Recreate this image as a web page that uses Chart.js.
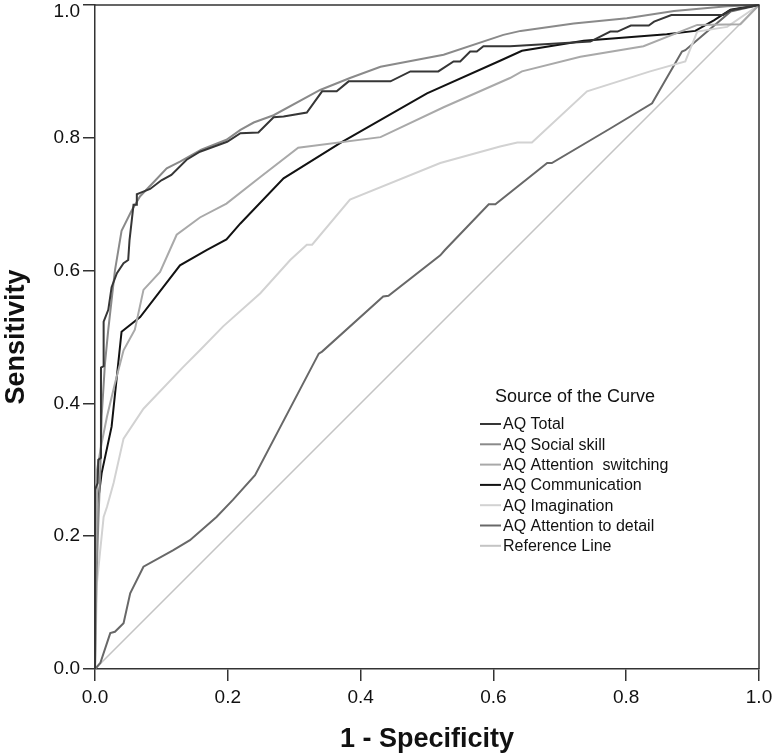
<!DOCTYPE html>
<html>
<head>
<meta charset="utf-8">
<script src="https://cdn.jsdelivr.net/npm/chart.js@4"></script>
<style>
  html, body { margin: 0; padding: 0; background: #fff; }
  #wrap { width: 774px; height: 756px; }
</style>
</head>
<body>
<div id="wrap"><canvas id="roc"></canvas></div>
<script>
// ROC points as [1 - specificity, sensitivity]
var aqTotal = [[0,0],[0,0.27],[0.004,0.28],[0.005,0.315],[0.009,0.318],[0.009,0.454],[0.013,0.456],[0.013,0.523],
  [0.020,0.541],[0.025,0.575],[0.033,0.596],[0.043,0.611],[0.050,0.616],[0.052,0.646],[0.058,0.699],[0.063,0.699],
  [0.063,0.715],[0.068,0.717],[0.083,0.723],[0.10,0.736],[0.115,0.744],[0.138,0.767],[0.158,0.779],[0.199,0.794],
  [0.219,0.807],[0.246,0.808],[0.269,0.831],[0.284,0.832],[0.319,0.838],[0.342,0.870],[0.364,0.870],[0.382,0.885],
  [0.445,0.885],[0.475,0.900],[0.517,0.900],[0.540,0.915],[0.550,0.915],[0.565,0.930],[0.575,0.930],[0.585,0.938],
  [0.625,0.938],[0.746,0.945],[0.776,0.960],[0.787,0.960],[0.807,0.969],[0.834,0.969],[0.842,0.975],[0.868,0.985],
  [0.946,0.985],[0.957,0.992],[1,1]];
var aqSocial = [[0,0],[0.002,0.13],[0.005,0.22],[0.008,0.30],[0.010,0.38],[0.015,0.46],[0.020,0.511],[0.030,0.60],
  [0.040,0.66],[0.055,0.69],[0.068,0.712],[0.090,0.735],[0.108,0.754],[0.128,0.764],[0.160,0.782],[0.198,0.797],
  [0.219,0.812],[0.239,0.823],[0.269,0.834],[0.339,0.872],[0.384,0.890],[0.430,0.907],[0.525,0.925],[0.615,0.955],
  [0.641,0.961],[0.721,0.972],[0.801,0.980],[0.872,0.991],[0.952,0.998],[1,1]];
var aqSwitching = [[0,0],[0.002,0.16],[0.003,0.30],[0.010,0.34],[0.018,0.38],[0.030,0.43],[0.043,0.48],[0.060,0.511],
  [0.073,0.571],[0.098,0.598],[0.123,0.654],[0.158,0.680],[0.198,0.701],[0.249,0.741],[0.306,0.785],[0.430,0.801],
  [0.525,0.846],[0.625,0.890],[0.643,0.900],[0.731,0.922],[0.826,0.938],[0.907,0.970],[0.972,0.971],[1,1]];
var aqCommunication = [[0,0],[0,0.13],[0.003,0.24],[0.010,0.295],[0.025,0.365],[0.040,0.508],[0.068,0.53],[0.128,0.608],
  [0.168,0.631],[0.198,0.647],[0.219,0.671],[0.284,0.739],[0.369,0.792],[0.5,0.867],[0.610,0.916],[0.643,0.931],
  [0.736,0.946],[0.861,0.956],[0.904,0.961],[0.932,0.977],[0.957,0.993],[1,1]];
var aqImagination = [[0,0],[0.003,0.13],[0.008,0.18],[0.013,0.229],[0.018,0.244],[0.028,0.28],[0.043,0.347],[0.073,0.392],
  [0.133,0.455],[0.158,0.48],[0.193,0.516],[0.249,0.566],[0.294,0.616],[0.319,0.639],[0.327,0.639],[0.384,0.707],
  [0.52,0.762],[0.610,0.787],[0.636,0.793],[0.658,0.793],[0.741,0.870],[0.836,0.900],[0.889,0.915],[0.907,0.960],
  [0.952,0.967],[1,1]];
var aqDetail = [[0,0],[0.008,0.009],[0.023,0.054],[0.030,0.056],[0.043,0.069],[0.053,0.114],[0.073,0.154],[0.118,0.179],
  [0.143,0.194],[0.183,0.229],[0.208,0.255],[0.241,0.292],[0.337,0.475],[0.342,0.478],[0.434,0.561],[0.442,0.562],
  [0.520,0.623],[0.527,0.631],[0.593,0.700],[0.603,0.700],[0.681,0.762],[0.688,0.762],[0.776,0.814],[0.781,0.817],
  [0.839,0.852],[0.884,0.930],[0.889,0.932],[0.957,0.990],[1,1]];
var referenceLine = [[0,0],[1,1]];

var curveNames = ['AQ Total', 'AQ Social skill', 'AQ Attention  switching', 'AQ Communication',
  'AQ Imagination', 'AQ Attention to detail', 'Reference Line'];
var curveData = [aqTotal, aqSocial, aqSwitching, aqCommunication, aqImagination, aqDetail, referenceLine];
var curveColors = ['#363636', '#8a8a8a', '#a9a9a9', '#121212', '#d2d2d2', '#686868', '#c4c4c4'];
var axisTicks = [0, 0.2, 0.4, 0.6, 0.8, 1.0];

var FONT = "'Liberation Sans', Arial, sans-serif";

function toPoints(pairs) {
    return pairs.map(function (p) { return { x: p[0], y: p[1] }; });
}

var datasets = [];
for (var i = 0; i < curveData.length; i++) {
    datasets.push({
        label: curveNames[i],
        data: toPoints(curveData[i]),
        borderColor: curveColors[i],
        borderWidth: i == 6 ? 1.6 : 2,
        pointRadius: 0,
        tension: 0,
        fill: false,
        clip: 4
    });
}

// push the top y label down so it is not cut off at the canvas edge
var topLabelPlugin = {
    id: 'topLabel',
    beforeDraw: function (chart) {
        var items = chart.scales.y.getLabelItems();
        for (var n = 0; n < items.length; n++) {
            if (items[n].label === '1.0' && items[n].options && items[n].options.translation) {
                items[n].options.translation[1] = Math.max(items[n].options.translation[1], 12);
            }
        }
    }
};

// frame round the plot plus the legend inside it
var framePlugin = {
    id: 'frame',
    afterDatasetsDraw: function (chart) {
        var ctx = chart.ctx;
        var a = chart.chartArea;
        ctx.save();
        ctx.strokeStyle = '#333';
        ctx.lineWidth = 1.5;
        ctx.beginPath();
        ctx.moveTo(a.left, a.top);
        ctx.lineTo(a.right, a.top);
        ctx.lineTo(a.right, a.bottom);
        ctx.stroke();

        // legend
        var x0 = 480, y0 = 397;
        ctx.fillStyle = '#111';
        ctx.textBaseline = 'middle';
        ctx.textAlign = 'left';
        ctx.font = '18px ' + FONT;
        ctx.fillText('Source of the Curve', 495, y0);
        ctx.font = '16px ' + FONT;
        var sets = chart.data.datasets;
        for (var k = 0; k < sets.length; k++) {
            var yy = 424 + k * 20.3;
            ctx.strokeStyle = sets[k].borderColor;
            ctx.lineWidth = 2;
            ctx.beginPath();
            ctx.moveTo(x0, yy);
            ctx.lineTo(x0 + 21, yy);
            ctx.stroke();
            ctx.fillStyle = '#111';
            ctx.fillText(sets[k].label, x0 + 23, yy + 1);
        }
        ctx.restore();
    }
};

function squash(scale) {
    scale.paddingTop = 0;
    scale.paddingBottom = 0;
    scale.paddingLeft = 0;
    scale.paddingRight = 0;
}

var config = {
    type: 'line',
    data: { datasets: datasets },
    plugins: [topLabelPlugin, framePlugin],
    options: {
        responsive: true,
        maintainAspectRatio: false,
        animation: false,
        layout: { padding: { top: 5, right: 15, left: 0, bottom: 0 } },
        plugins: {
            legend: { display: false },
            tooltip: { enabled: false }
        },
        scales: {
            x: {
                type: 'linear',
                min: 0,
                max: 1,
                afterBuildTicks: function (scale) {
                    scale.ticks = axisTicks.map(function (v) { return { value: v }; });
                },
                afterFit: function (scale) {
                    scale.height = 87;
                    squash(scale);
                },
                ticks: {
                    color: '#111',
                    padding: 5,
                    maxRotation: 0,
                    font: { family: FONT, size: 19 },
                    callback: function (v) { return v.toFixed(1); }
                },
                grid: { drawOnChartArea: false, drawTicks: true, tickLength: 12, color: '#333', lineWidth: 1.5 },
                border: { display: true, color: '#333', width: 1.5 },
                title: {
                    display: true,
                    text: '1 - Specificity',
                    color: '#111',
                    padding: { top: 0, bottom: 0 },
                    font: { family: FONT, size: 27, weight: 'bold' }
                }
            },
            y: {
                type: 'linear',
                min: 0,
                max: 1,
                afterBuildTicks: function (scale) {
                    scale.ticks = axisTicks.map(function (v) { return { value: v }; });
                },
                afterFit: function (scale) {
                    scale.width = 95;
                    squash(scale);
                },
                ticks: {
                    color: '#111',
                    padding: 3,
                    font: { family: FONT, size: 19 },
                    callback: function (v) { return v.toFixed(1); }
                },
                grid: { drawOnChartArea: false, drawTicks: true, tickLength: 12, color: '#333', lineWidth: 1.5 },
                border: { display: true, color: '#333', width: 1.5 },
                title: {
                    display: true,
                    text: 'Sensitivity',
                    color: '#111',
                    padding: { top: 0, bottom: 0 },
                    font: { family: FONT, size: 27, weight: 'bold' }
                }
            }
        }
    }
};

var ctx = document.getElementById('roc').getContext('2d');
window.rocChart = new Chart(ctx, config);
</script>
</body>
</html>
